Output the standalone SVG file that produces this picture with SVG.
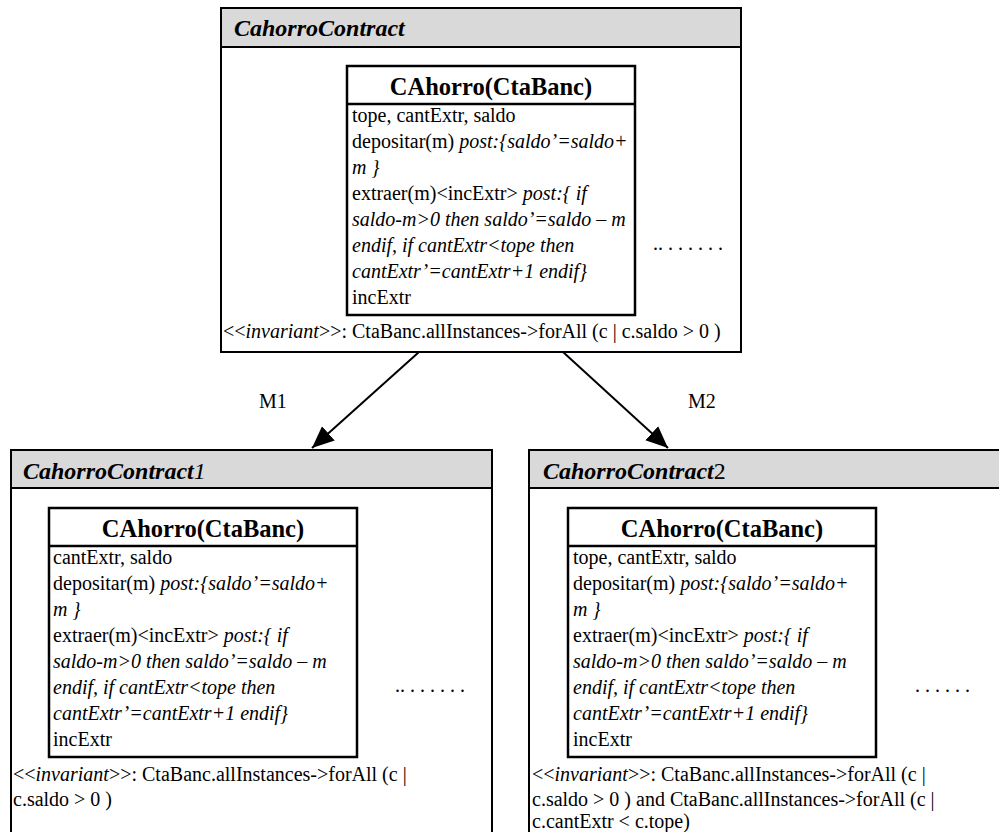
<svg xmlns="http://www.w3.org/2000/svg" width="999" height="832" viewBox="0 0 999 832">
<defs>
<style>
.b{font-size:20px}
.i{font-style:italic}
.h{font-size:24px;font-weight:bold;font-style:italic}
.t{font-size:24.5px;font-weight:bold;text-anchor:middle}
.frame{fill:#fff;stroke:#000;stroke-width:2}
.hdr{fill:#d9d9d9;stroke:#000;stroke-width:2}
.cls{fill:#fff;stroke:#000;stroke-width:2.5}
.conn{stroke:#000;stroke-width:2;fill:none}
</style>
<marker id="ah" markerUnits="userSpaceOnUse" markerWidth="23" markerHeight="20" refX="22" refY="9.5" orient="auto">
<path d="M0,0 L22,9.5 L0,19 z" fill="#000"/>
</marker>
</defs>
<rect width="999" height="832" fill="#fff"/>
<g font-family="'Liberation Serif', 'DejaVu Serif', serif" fill="#000">

<g id="connectors">
<line class="conn" x1="419" y1="352" x2="312" y2="448" marker-end="url(#ah)"/>
<line class="conn" x1="563" y1="352" x2="668" y2="448" marker-end="url(#ah)"/>
<text class="b" x="259" y="408">M1</text>
<text class="b" x="688" y="408">M2</text>
</g>

<g id="CahorroContract">
<rect class="frame" x="221" y="8" width="520" height="344"/>
<rect class="hdr" x="221" y="8" width="520" height="39"/>
<text class="h" x="234" y="36">CahorroContract</text>
<rect class="cls" x="347" y="66" width="288" height="249"/>
<line class="cls" x1="347" y1="104" x2="635" y2="104"/>
<text class="t" x="491" y="95">CAhorro(CtaBanc)</text>
<text class="b" x="352" y="122">tope, cantExtr, saldo</text>
<text class="b" x="352" y="148">depositar(m) <tspan class="i">post:{saldo’=saldo+</tspan></text>
<text class="b i" x="352" y="174">m }</text>
<text class="b" x="352" y="200">extraer(m)&lt;incExtr&gt; <tspan class="i">post:{ if</tspan></text>
<text class="b i" x="352" y="226">saldo-m&gt;0 then saldo’=saldo – m</text>
<text class="b i" x="352" y="252">endif, if cantExtr&lt;tope then</text>
<text class="b i" x="352" y="278">cantExtr’=cantExtr+1 endif}</text>
<text class="b" x="352" y="304">incExtr</text>
<text class="b" x="653" y="250">.. . . . . . .</text>
<text class="b" x="223" y="338">&lt;&lt;<tspan class="i">invariant</tspan>&gt;&gt;: CtaBanc.allInstances-&gt;forAll (c | c.saldo &gt; 0 )</text>
</g>

<g id="CahorroContract1">
<rect class="frame" x="11" y="450" width="481" height="400"/>
<rect class="hdr" x="11" y="450" width="481" height="38"/>
<text class="h" x="23" y="479">CahorroContract<tspan font-weight="normal">1</tspan></text>
<rect class="cls" x="49" y="508" width="308" height="249"/>
<line class="cls" x1="49" y1="546" x2="357" y2="546"/>
<text class="t" x="203" y="537">CAhorro(CtaBanc)</text>
<text class="b" x="53" y="564">cantExtr, saldo</text>
<text class="b" x="53" y="590">depositar(m) <tspan class="i">post:{saldo’=saldo+</tspan></text>
<text class="b i" x="53" y="616">m }</text>
<text class="b" x="53" y="642">extraer(m)&lt;incExtr&gt; <tspan class="i">post:{ if</tspan></text>
<text class="b i" x="53" y="668">saldo-m&gt;0 then saldo’=saldo – m</text>
<text class="b i" x="53" y="694">endif, if cantExtr&lt;tope then</text>
<text class="b i" x="53" y="720">cantExtr’=cantExtr+1 endif}</text>
<text class="b" x="53" y="746">incExtr</text>
<text class="b" x="395" y="692">.. . . . . . .</text>
<text class="b" x="13" y="781">&lt;&lt;<tspan class="i">invariant</tspan>&gt;&gt;: CtaBanc.allInstances-&gt;forAll (c |</text>
<text class="b" x="13" y="806">c.saldo &gt; 0 )</text>
</g>

<g id="CahorroContract2">
<rect class="frame" x="529" y="450" width="490" height="400"/>
<rect class="hdr" x="529" y="450" width="490" height="38"/>
<text class="h" x="543" y="479">CahorroContract<tspan font-weight="normal" font-style="normal">2</tspan></text>
<rect class="cls" x="568" y="508" width="308" height="249"/>
<line class="cls" x1="568" y1="546" x2="876" y2="546"/>
<text class="t" x="722" y="537">CAhorro(CtaBanc)</text>
<text class="b" x="573" y="564">tope, cantExtr, saldo</text>
<text class="b" x="573" y="590">depositar(m) <tspan class="i">post:{saldo’=saldo+</tspan></text>
<text class="b i" x="573" y="616">m }</text>
<text class="b" x="573" y="642">extraer(m)&lt;incExtr&gt; <tspan class="i">post:{ if</tspan></text>
<text class="b i" x="573" y="668">saldo-m&gt;0 then saldo’=saldo – m</text>
<text class="b i" x="573" y="694">endif, if cantExtr&lt;tope then</text>
<text class="b i" x="573" y="720">cantExtr’=cantExtr+1 endif}</text>
<text class="b" x="573" y="746">incExtr</text>
<text class="b" x="915" y="692">. . . . . .</text>
<text class="b" x="532" y="781">&lt;&lt;<tspan class="i">invariant</tspan>&gt;&gt;: CtaBanc.allInstances-&gt;forAll (c |</text>
<text class="b" x="532" y="806">c.saldo &gt; 0 ) and CtaBanc.allInstances-&gt;forAll (c |</text>
<text class="b" x="532" y="828">c.cantExtr &lt; c.tope)</text>
</g>
</g>
</svg>
